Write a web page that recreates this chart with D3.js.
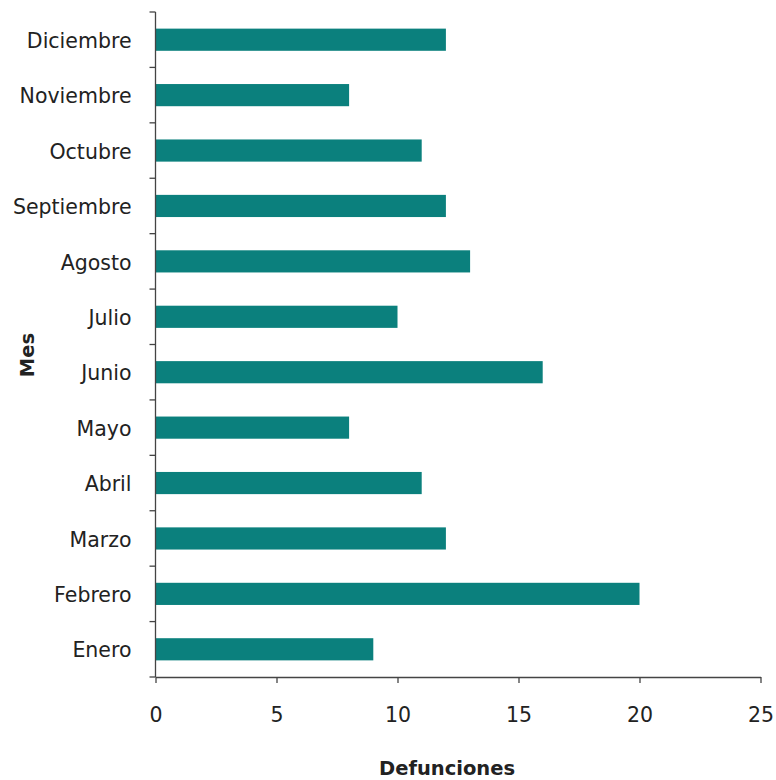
<!DOCTYPE html>
<html><head><meta charset="utf-8">
<script src="https://cdn.jsdelivr.net/npm/d3@7"></script>
<style>body{margin:0;background:#fff}</style>
</head><body>
<svg id="c" width="776" height="780"></svg>
<script>
const months = ["Enero","Febrero","Marzo","Abril","Mayo","Junio","Julio","Agosto","Septiembre","Octubre","Noviembre","Diciembre"];
const deaths = [9,20,12,11,8,16,10,13,12,11,8,12];
const xTicks = [0,5,10,15,20,25];

const svg = d3.select("#c");
const mLeft = 155.5, mRight = 760.5, mTop = 12, mBottom = 677;
const font = "'DejaVu Sans', Arial, sans-serif";

const x = d3.scaleLinear().domain([0,25]).range([mLeft,mRight]);
const y = d3.scaleBand().domain(months.slice().reverse()).range([mTop,mBottom]).paddingInner(0.6).paddingOuter(0.3);

svg.selectAll("rect.bar").data(months).enter().append("rect")
  .attr("x", x(0))
  .attr("y", d => y(d))
  .attr("width", (d,i) => x(deaths[i]) - x(0))
  .attr("height", y.bandwidth())
  .attr("fill", "#0b807d");

// y axis
const yb = d3.scaleBand().domain(months.slice().reverse()).range([mTop,mBottom]);
const gy = svg.append("g").attr("transform", `translate(${mLeft},0)`);
gy.append("line").attr("x1",0).attr("x2",0).attr("y1",mTop).attr("y2",mBottom).attr("stroke","#444").attr("stroke-width",1.3);
const bounds = months.map(m => yb(m)).concat([mBottom]);
gy.selectAll("line.t").data(bounds).enter().append("line")
  .attr("x1",-6).attr("x2",0).attr("y1",d=>d).attr("y2",d=>d).attr("stroke","#444").attr("stroke-width",1.3);
gy.selectAll("text").data(months).enter().append("text")
  .attr("x",-24).attr("y",d=>yb(d)+yb.bandwidth()/2+1).attr("dy","0.35em")
  .attr("text-anchor","end").attr("font-family",font).attr("font-size",20.5).attr("fill","#222")
  .text(d=>d);

// x axis
const gx = svg.append("g").attr("transform", `translate(0,${mBottom})`)
  .call(d3.axisBottom(x).tickValues(xTicks).tickSize(6).tickSizeOuter(0).tickPadding(24).tickFormat(d3.format("d")));
gx.select(".domain").attr("stroke","#444").attr("stroke-width",1.3);
gx.selectAll(".tick line").attr("stroke","#444").attr("stroke-width",1.3);
gx.selectAll("text").attr("font-family",font).attr("font-size",20.5).attr("fill","#222");

svg.append("text").attr("x",447).attr("y",775).attr("text-anchor","middle")
  .attr("font-family",font).attr("font-weight","bold").attr("font-size",19.5).attr("fill","#222").text("Defunciones");
svg.append("text").attr("transform","translate(34,355) rotate(-90)").attr("text-anchor","middle")
  .attr("font-family",font).attr("font-weight","bold").attr("font-size",19.5).attr("fill","#222").text("Mes");
</script>
</body></html>
